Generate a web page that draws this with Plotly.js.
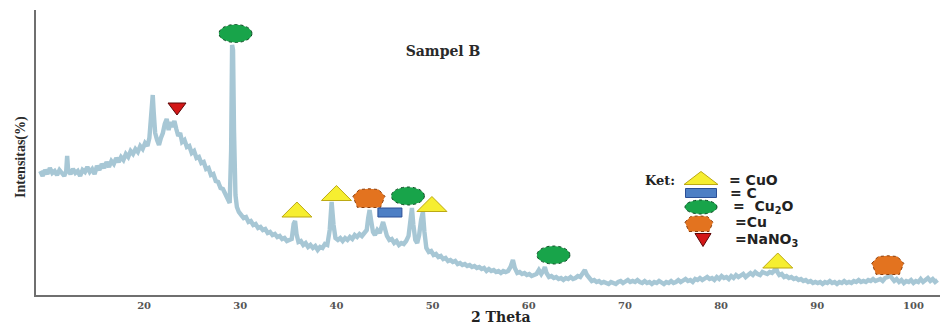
<!DOCTYPE html>
<html><head><meta charset="utf-8">
<script src="https://cdn.plot.ly/plotly-3.0.1.min.js"></script>
<style>html,body{margin:0;padding:0;background:#fff}#chart{width:944px;height:324px}</style>
</head><body><div id="chart"></div>
<script>
// ---- data (2θ in degrees, intensity in arbitrary counts) ----
const twoTheta = [
 9.2,9.45,9.7,9.95,10.2,10.45,10.7,10.95,11.2,11.45,11.7,11.9,12.0,12.1,12.35,12.6,12.85,13.1,13.35,13.6,13.85,
 14.1,14.35,14.6,14.85,15.1,15.35,15.6,15.85,16.1,16.35,16.6,16.85,17.1,17.35,17.6,17.85,18.1,18.35,18.6,18.85,
 19.1,19.35,19.6,19.85,20.1,20.35,20.55,20.75,20.9,21.0,21.15,21.35,21.55,21.75,21.95,22.15,22.35,22.55,22.75,22.95,
 23.15,23.35,23.55,23.75,23.95,24.2,24.45,24.7,24.95,25.2,25.45,25.7,25.95,26.2,26.45,26.7,26.95,27.2,27.45,27.7,
 27.95,28.2,28.45,28.7,28.9,29.05,29.15,29.25,29.35,29.5,29.65,29.85,30.1,30.35,30.6,30.85,31.1,31.35,31.6,31.85,
 32.1,32.35,32.6,32.85,33.1,33.35,33.6,33.85,34.1,34.35,34.6,34.85,35.1,35.35,35.55,35.7,35.85,36.05,36.3,36.55,
 36.8,37.05,37.3,37.55,37.8,38.05,38.3,38.55,38.8,39.05,39.3,39.5,39.7,39.9,40.15,40.4,40.65,40.9,41.15,41.4,
 41.65,41.9,42.15,42.4,42.65,42.9,43.15,43.3,43.45,43.6,43.8,44.0,44.25,44.5,44.7,44.85,45.0,45.25,45.5,45.75,
 46.0,46.25,46.5,46.75,47.0,47.25,47.5,47.7,47.85,48.0,48.2,48.4,48.6,48.8,48.99,49.15,49.35,49.6,49.85,50.1,
 50.35,50.6,50.85,51.1,51.35,51.6,51.85,52.1,52.35,52.6,52.85,53.1,53.35,53.6,53.85,54.1,54.35,54.6,54.85,55.1,
 55.35,55.6,55.85,56.1,56.35,56.6,56.85,57.1,57.35,57.6,57.85,58.1,58.35,58.55,58.8,59.05,59.3,59.55,59.8,60.05,
 60.3,60.55,60.8,61.05,61.3,61.5,61.67,61.85,62.1,62.35,62.6,62.85,63.1,63.35,63.6,63.85,64.1,64.35,64.6,64.85,
 65.1,65.35,65.6,65.83,66.05,66.3,66.55,66.8,67.05,67.3,67.55,67.8,68.05,68.3,68.55,68.8,69.05,69.3,69.55,69.8,
 70.05,70.3,70.55,70.8,71.05,71.3,71.55,71.8,72.05,72.3,72.55,72.8,73.05,73.3,73.55,73.8,74.05,74.3,74.55,74.8,
 75.05,75.3,75.55,75.8,76.05,76.3,76.55,76.8,77.05,77.3,77.55,77.8,78.05,78.3,78.55,78.8,79.05,79.3,79.55,79.8,
 80.05,80.3,80.55,80.8,81.05,81.3,81.55,81.8,82.05,82.3,82.55,82.8,83.05,83.3,83.55,83.8,84.05,84.3,84.55,84.8,
 85.05,85.3,85.5,85.69,85.85,86.05,86.3,86.55,86.8,87.05,87.3,87.55,87.8,88.05,88.3,88.55,88.8,89.05,89.3,89.55,
 89.8,90.05,90.3,90.55,90.8,91.05,91.3,91.55,91.8,92.05,92.3,92.55,92.8,93.05,93.3,93.55,93.8,94.05,94.3,94.55,
 94.8,95.05,95.3,95.55,95.8,96.05,96.3,96.55,96.8,97.05,97.3,97.54,97.75,98.0,98.25,98.5,98.75,99.0,99.25,99.5,
 99.75,100.0,100.25,100.5,100.75,101.0,101.25,101.5,101.75,102.0,102.25,102.5
];
const intensity = [
 124,119,125,121,127,122,124,120,125,122,119,124,139,125,121,126,122,124,119,125,123,
 128,123,126,121,129,125,131,127,133,128,134,131,137,133,138,135,141,138,144,141,
 146,143,149,146,152,149,157,185,200,183,162,155,150,157,162,171,176,165,173,168,
 174,166,159,162,153,155,148,149,142,144,137,138,132,133,126,127,120,121,114,113,
 107,106,100,95,92,145,250,245,165,100,88,83,80,77,78,73,74,70,71,67,
 68,65,66,62,63,60,61,58,59,56,57,54,55,56,71,74,61,53,54,50,
 52,48,50,47,49,45,48,47,51,50,65,93,70,57,55,57,54,57,55,58,
 56,60,58,61,59,63,65,77,85,75,63,60,65,62,70,73,68,59,55,56,
 52,54,50,52,51,54,59,73,87,70,55,52,60,75,83,63,47,43,44,40,
 41,38,39,36,37,34,35,33,34,31,32,30,31,29,30,28,29,27,28,26,
 27,24,26,24,25,23,24,22,24,23,24,28,35,27,22,23,21,22,20,21,
 19,20,21,25,21,24,28,22,18,19,17,18,16,17,15,17,16,18,16,17,
 19,18,22,25,20,16,14,15,13,14,12,13,12,11,13,12,11,13,14,12,
 14,15,13,14,13,15,13,12,14,12,13,11,13,12,14,12,11,13,12,14,
 12,13,15,13,14,16,14,15,13,16,15,17,15,16,18,16,17,15,18,16,
 19,17,18,16,19,17,20,18,19,21,18,20,22,20,23,21,20,23,22,21,
 23,22,24,28,23,20,21,18,19,17,18,16,17,15,16,14,15,13,14,12,
 13,12,13,11,13,12,14,12,13,11,13,12,14,12,13,12,14,13,15,13,
 14,13,15,14,16,14,15,16,14,17,18,20,17,14,16,13,15,12,14,13,
 15,12,14,13,16,13,15,17,14,16,13,15
];
// identified phase markers (2θ, intensity, phase)
const phaseX = [23.42, 29.5, 35.89, 40.0, 43.38, 45.56, 47.43, 49.93, 62.56, 85.89, 97.33];
const phaseY = [186, 261.5, 85.5, 102, 96.5, 82.5, 99, 91, 40, 34.5, 29.5];
const phaseKind = ['NaNO3','Cu2O','CuO','CuO','Cu','C','Cu2O','CuO','Cu2O','CuO','Cu'];
const xTickVals = [20, 30, 40, 50, 60, 70, 80, 90, 100];
const legendKinds = ['CuO', 'C', 'Cu2O', 'Cu', 'NaNO3'];
const legendLabels = ['= CuO', '= C', '=  Cu<sub>2</sub>O', '=Cu', '=NaNO<sub>3</sub>'];
const keyTitle = 'Ket:';
const chartTitle = 'Sampel B';
const xTitle = '2 Theta';
const yTitle = 'Intensitas(%)';

// ---- styling ----
const STYLE = {
  CuO:   {type:'tri',  w:30, h:15, fill:'#f6ee30', line:'#bca914', dash:'solid'},
  NaNO3: {type:'tri-d',w:18, h:12, fill:'#d31717', line:'#5c0606', dash:'solid'},
  Cu2O:  {type:'ell',  w:33, h:18, fill:'#18a44a', line:'#0b4a22', dash:'dot'},
  Cu:    {type:'pent', w:32, h:18, fill:'#e3731f', line:'#8a3e0c', dash:'dot'},
  C:     {type:'rect', w:24, h:9,  fill:'#4d7fc5', line:'#2b4f96', dash:'solid'}
};
const M = {l:36, r:4, t:10, b:29}, W = 944, H = 324;
const PW = W - M.l - M.r, PH = H - M.t - M.b;
const px2paperX = p => (p - M.l) / PW;
const py2paperY = p => (M.t + PH - p) / PH;

function symbolShape(kind, xref, yref, xa, ya, w, h) {
  const s = STYLE[kind];
  w = w || s.w; h = h || s.h;
  const base = {xref, yref, xsizemode:'pixel', ysizemode:'pixel', xanchor:xa, yanchor:ya,
    fillcolor:s.fill, line:{color:s.line, width:1, dash:s.dash}, layer:'above'};
  const hw = w/2, hh = h/2;
  if (s.type === 'ell') return Object.assign(base, {type:'circle', x0:-hw, x1:hw, y0:-hh, y1:hh});
  if (s.type === 'rect') return Object.assign(base, {type:'rect', x0:-hw, x1:hw, y0:-hh, y1:hh});
  let path;
  if (s.type === 'tri') path = `M ${-hw} ${-hh} L ${hw} ${-hh} L 0 ${hh} Z`;
  else if (s.type === 'tri-d') path = `M ${-hw} ${hh} L ${hw} ${hh} L 0 ${-hh} Z`;
  else path = `M ${-hw} ${h*0.12} L ${-w*0.3} ${hh} L 0 ${hh*1.08} L ${w*0.3} ${hh} L ${hw} ${h*0.12} L ${w*0.36} ${-hh} L ${-w*0.36} ${-hh} Z`;
  return Object.assign(base, {type:'path', path});
}

const shapes = [];
phaseX.forEach((x, i) => shapes.push(symbolShape(phaseKind[i], 'x', 'y', x, phaseY[i])));

// key (legend) block laid out in pixels
const keySym = [[701,178,34,13],[701,193,31,9],[701,207,32,14],[699,224,28,15],[703,240,16,13]];
const keyTxt = [[727,180],[728,193],[731,207],[733,222],[733,240]];
const annotations = [];
legendKinds.forEach((k, i) => {
  const [sx, sy, sw, sh] = keySym[i];
  shapes.push(symbolShape(k, 'paper', 'paper', px2paperX(sx), py2paperY(sy), sw, sh));
  annotations.push({xref:'paper', yref:'paper', x:px2paperX(keyTxt[i][0]), y:py2paperY(keyTxt[i][1]),
    xanchor:'left', yanchor:'middle', showarrow:false, text:legendLabels[i],
    font:{family:'DejaVu Sans', size:14, color:'#222', weight:'bold'}});
});
annotations.push({xref:'paper', yref:'paper', x:px2paperX(660), y:py2paperY(180), xanchor:'center', yanchor:'middle',
  showarrow:false, text:keyTitle, font:{family:'DejaVu Serif', size:13, color:'#222', weight:'bold'}});
annotations.push({xref:'paper', yref:'paper', x:px2paperX(501), y:py2paperY(317), xanchor:'center', yanchor:'middle',
  showarrow:false, text:xTitle, font:{family:'DejaVu Serif', size:14, color:'#222', weight:'bold'}});
annotations.push({xref:'paper', yref:'paper', x:px2paperX(21), y:py2paperY(157), xanchor:'center', yanchor:'middle',
  textangle:-90, showarrow:false, text:yTitle, font:{family:'Liberation Serif', size:14, color:'#2a2a2a', weight:'bold'}});

const trace = {x:twoTheta, y:intensity, type:'scatter', mode:'lines',
  line:{color:'#a7c7d5', width:4.4}, hoverinfo:'skip', showlegend:false};

const layout = {
  width:W, height:H, margin:M, paper_bgcolor:'#fff', plot_bgcolor:'#fff', showlegend:false,
  title:{text:chartTitle, xref:'container', yref:'container', x:443/W, xanchor:'center', y:1-51/H, yanchor:'middle',
    font:{family:'DejaVu Serif', size:14, color:'#2a2a2a', weight:'bold'}},
  xaxis:{range:[8.76, 102.76], tickvals:xTickVals, ticks:'', showline:true, linecolor:'#6f6f6f', linewidth:2,
    showgrid:false, zeroline:false, tickfont:{family:'DejaVu Serif', size:10, color:'#555', weight:'bold'}},
  yaxis:{range:[0, 285], showticklabels:false, ticks:'', showline:true, linecolor:'#6f6f6f', linewidth:2,
    showgrid:false, zeroline:false},
  shapes, annotations
};
Plotly.newPlot('chart', [trace], layout, {staticPlot:true, displayModeBar:false});
</script></body></html>
